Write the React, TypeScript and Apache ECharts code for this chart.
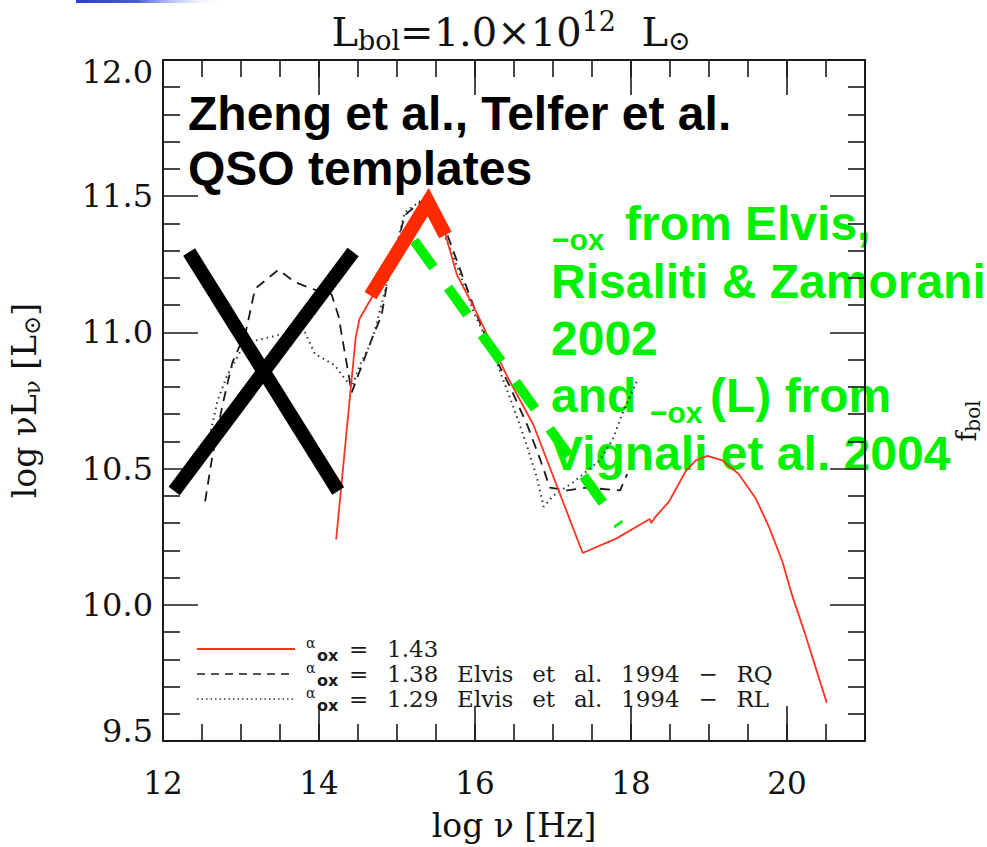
import React, { useEffect, useRef } from "react";
import * as echarts from "echarts";

// Composite QSO SED, L_bol = 1e12 Lsun (alpha_ox = 1.43)
const sedNu = [14.22, 14.47, 14.52, 14.66, 15.4, 15.61, 15.77, 15.99, 16.41, 16.75, 17.38, 17.81, 18.24, 18.26, 18.3, 18.49, 18.7, 18.83, 18.98, 19.17, 19.38, 19.6, 19.77, 19.94, 20.06, 20.23, 20.4, 20.51];
const sedL = [10.24, 10.98, 11.05, 11.12, 11.478, 11.37, 11.21, 11.09, 10.84, 10.66, 10.19, 10.243, 10.315, 10.3, 10.318, 10.38, 10.49, 10.53, 10.547, 10.53, 10.48, 10.39, 10.285, 10.16, 10.04, 9.895, 9.74, 9.64];

// Elvis et al. 1994 radio-quiet mean SED (alpha_ox = 1.38)
const rqNu = [12.54, 12.63, 12.76, 12.89, 13.06, 13.18, 13.48, 13.69, 13.91, 14.16, 14.25, 14.37, 14.42, 14.63, 14.71, 14.8, 14.88, 15.1, 15.22, 15.36, 15.65, 15.9, 16.03, 16.2, 16.45, 16.67, 16.84, 16.96, 17.18, 17.43, 17.86, 17.95];
const rqL = [10.38, 10.54, 10.73, 10.89, 11.0, 11.16, 11.23, 11.185, 11.16, 11.14, 11.06, 10.86, 10.78, 10.94, 11.0, 11.06, 11.19, 11.43, 11.46, 11.49, 11.355, 11.16, 11.06, 10.94, 10.8, 10.66, 10.53, 10.43, 10.42, 10.43, 10.42, 10.48];

// Elvis et al. 1994 radio-loud mean SED (alpha_ox = 1.29)
const rlNu = [12.6, 12.7, 12.82, 13.01, 13.18, 13.48, 13.82, 13.95, 14.2, 14.33, 14.42, 14.54, 14.63, 14.71, 14.88, 15.1, 15.38, 15.55, 15.8, 15.99, 16.24, 16.5, 16.67, 16.8, 16.88, 17.0, 17.26, 17.43, 17.6, 17.77, 17.9, 18.09];
const rlL = [10.62, 10.75, 10.84, 10.94, 10.97, 10.99, 11.0, 10.92, 10.88, 10.83, 10.8, 10.89, 10.94, 11.0, 11.19, 11.44, 11.5, 11.4, 11.22, 11.07, 10.92, 10.72, 10.58, 10.46, 10.36, 10.4, 10.45, 10.49, 10.53, 10.61, 10.71, 10.83];

// Annotation strokes: the IR cross, the optical/UV template segment, the alpha_ox bridge
const crossANu = [12.335, 14.246];
const crossAL = [11.295, 10.418];
const crossBNu = [12.144, 14.437];
const crossBL = [10.418, 11.295];
const uvNu = [14.66, 15.4, 15.62];
const uvL = [11.135, 11.478, 11.358];
const oxNu = [15.22, 17.847];
const oxL = [11.337, 10.292];

// Legend entries
const legendAlpha = ["1.43", "1.38", "1.29"];
const legendRef = ["", "Elvis\u2002 et\u2002 al.\u2002 1994\u2002 \u2212\u2002 RQ", "Elvis\u2002 et\u2002 al.\u2002 1994\u2002 \u2212\u2002 RL"];

const SERIF = '"DejaVu Serif", serif';
const SANS = '"Liberation Sans", Arial, sans-serif';
const RED = "#ff3322";
const GREEN = "#00f000";
const INK = "#1a1a1a";

const pairs = (xs: number[], ys: number[]) => xs.map((x, i) => [x, ys[i]]);

const tickLine = { color: INK, width: 1.6 };

function buildOption(): echarts.EChartsOption {
  const legendRows = [649, 674, 699];
  const legendStyles = [
    { stroke: RED, lineWidth: 1.8 },
    { stroke: INK, lineWidth: 1.6, lineDash: [8, 6] },
    { stroke: "#333", lineWidth: 1.6, lineDash: [1.5, 3] },
  ];
  const legendGraphics: any[] = [];
  legendRows.forEach((y0, i) => {
    legendGraphics.push({
      type: "line",
      shape: { x1: 197, y1: y0, x2: 295, y2: y0 },
      style: { ...legendStyles[i], fill: null },
    });
    legendGraphics.push({
      type: "text", x: 306, y: y0 - 6,
      style: { text: "\u03b1", font: `14px ${SERIF}`, lineHeight: 11, fill: INK, verticalAlign: "middle" },
    });
    legendGraphics.push({
      type: "text", x: 317, y: y0 + 6,
      style: { text: "ox", font: 'bold 16px "DejaVu Sans", sans-serif', lineHeight: 12, fill: INK, verticalAlign: "middle" },
    });
    legendGraphics.push({
      type: "text", x: 349, y: y0,
      style: {
        text: "=\u2002 " + legendAlpha[i] + (legendRef[i] ? "\u2002 " + legendRef[i] : ""),
        font: `23px ${SERIF}`, lineHeight: 20, fill: INK, verticalAlign: "middle",
      },
    });
  });

  const bigText = (text: string, x: number, y: number, fill: string, size = 48) => ({
    type: "text", x, y,
    style: {
      text, font: `bold ${size}px ${SANS}`, fill, verticalAlign: "middle",
      lineHeight: size === 48 ? 46 : 26,
    },
  });

  const majorX = (position: "top" | "bottom", labels: boolean) => ({
    type: "value" as const,
    position,
    min: 12, max: 21, interval: 2,
    axisLine: { show: true, onZero: false, lineStyle: { color: INK, width: 2 } },
    axisTick: { show: true, inside: true, length: 35, lineStyle: tickLine },
    axisLabel: labels
      ? {
          show: true, margin: 26, color: "#111", fontFamily: SERIF, fontSize: 31,
          formatter: (v: number) => (v % 2 === 0 ? String(v) : ""),
        }
      : { show: false },
    splitLine: { show: false },
    ...(labels
      ? {
          name: "log \u03bd [Hz]", nameLocation: "middle" as const, nameGap: 68,
          nameTextStyle: { fontFamily: SERIF, fontSize: 33, color: "#111" },
        }
      : {}),
  });
  const minorX = (position: "top" | "bottom") => ({
    type: "value" as const,
    position,
    min: 12, max: 21, interval: 0.5,
    axisLine: { show: false },
    axisTick: { show: true, inside: true, length: 17, lineStyle: tickLine },
    axisLabel: { show: false },
    splitLine: { show: false },
  });
  const yAx = (position: "left" | "right", labels: boolean) => ({
    type: "value" as const,
    position,
    min: 9.5, max: 12, interval: 0.5,
    axisLine: { show: true, onZero: false, lineStyle: { color: INK, width: 2 } },
    axisTick: { show: true, inside: true, length: 35, lineStyle: tickLine },
    minorTick: { show: true, splitNumber: 5, length: 17, lineStyle: tickLine },
    axisLabel: labels
      ? {
          show: true, margin: 10, color: "#111", fontFamily: SERIF, fontSize: 32,
          // end labels are nudged inward so they stay within the frame
          formatter: (v: number) =>
            v === 12 ? "{hi|12.0}" : v === 9.5 ? "{lo|9.5}" : v.toFixed(1),
          rich: {
            hi: { fontFamily: SERIF, fontSize: 32, color: "#111", padding: [24, 0, 0, 0] },
            lo: { fontFamily: SERIF, fontSize: 32, color: "#111", padding: [0, 0, 20, 0] },
          },
        }
      : { show: false },
    splitLine: { show: false },
    ...(labels
      ? {
          name: "{m|log \u03bdL}{s|\u03bd}{m| [L}{s|\u2299}{m|]}",
          nameLocation: "middle" as const, nameRotate: 90, nameGap: 120,
          nameTextStyle: {
            rich: {
              m: { fontFamily: SERIF, fontSize: 33, color: "#111" },
              s: { fontFamily: SERIF, fontSize: 23, color: "#111", padding: [14, 0, 0, 0] },
            },
          },
        }
      : {}),
  });

  const line = (name: string, nu: number[], l: number[], lineStyle: any, z = 2) => ({
    type: "line" as const, name, data: pairs(nu, l),
    xAxisIndex: 0, yAxisIndex: 0,
    symbol: "none", showSymbol: false, smooth: false, z,
    lineStyle, emphasis: { disabled: true },
  });

  return {
    animation: false,
    backgroundColor: "#ffffff",
    title: {
      text: "{m|L}{s|bol}{m|=1.0\u00d710}{p|12}{m|  L}{s|\u2299}",
      left: 511, top: 8, textAlign: "center", padding: 0,
      textStyle: {
        fontWeight: "normal",
        rich: {
          m: { fontFamily: SERIF, fontSize: 40, color: "#111", fontWeight: "normal" },
          s: { fontFamily: SERIF, fontSize: 27, color: "#111", fontWeight: "normal", padding: [18, 0, 0, 0] },
          p: { fontFamily: SERIF, fontSize: 27, color: "#111", fontWeight: "normal", padding: [0, 0, 20, 0] },
        },
      },
    },
    grid: { left: 157, right: 122, top: 60, bottom: 102, containLabel: false },
    xAxis: [majorX("bottom", true), minorX("bottom"), majorX("top", false), minorX("top")],
    yAxis: [yAx("left", true), yAx("right", false)],
    graphic: {
      elements: [
        {
          type: "rect", shape: { x: 76, y: 0, width: 152, height: 3 },
          style: {
            fill: new echarts.graphic.LinearGradient(0, 0, 1, 0, [
              { offset: 0, color: "#2a3bd6" },
              { offset: 0.4, color: "#4a5ae0" },
              { offset: 1, color: "rgba(255,255,255,0)" },
            ]),
          },
        },
        bigText("Zheng et al., Telfer et al.", 188, 113, "#000"),
        bigText("QSO templates", 188, 168, "#000"),
        bigText("\u2212ox", 552, 239, GREEN, 30),
        bigText("from Elvis,", 625, 223, GREEN),
        bigText("Risaliti & Zamorani", 551, 281, GREEN),
        bigText("2002", 551, 338, GREEN),
        bigText("and", 551, 395, GREEN),
        bigText("\u2212ox", 650, 412, GREEN, 30),
        bigText("(L) from", 710, 395, GREEN),
        bigText("Vignali et al. 2004", 551, 453, GREEN),
        {
          type: "text", x: 966, y: 421, rotation: Math.PI / 2,
          style: {
            text: "{f|f}{s|bol}", align: "center", verticalAlign: "middle",
            rich: {
              f: { fontFamily: SERIF, fontSize: 27, fill: "#111" },
              s: { fontFamily: SERIF, fontSize: 20, fill: "#111", padding: [14, 0, 0, 0] },
            },
          },
        },
        ...legendGraphics,
      ],
    },
    series: [
      line("\u03b1ox = 1.43", sedNu, sedL, { color: RED, width: 1.8 }, 3),
      line("\u03b1ox = 1.38 Elvis et al. 1994 - RQ", rqNu, rqL, { color: INK, width: 1.8, type: [10, 7] }),
      line("\u03b1ox = 1.29 Elvis et al. 1994 - RL", rlNu, rlL, { color: "#333", width: 2, type: [1.5, 4] }),
      line("IR cross a", crossANu, crossAL, { color: "#000", width: 14, cap: "butt" }, 4),
      line("IR cross b", crossBNu, crossBL, { color: "#000", width: 14, cap: "butt" }, 4),
      line("optical-UV template", uvNu, uvL, { color: "#ff2a00", width: 14, cap: "butt", join: "miter", miterLimit: 10 }, 5),
      line("alpha_ox bridge", oxNu, oxL, { color: GREEN, width: 10, type: [33, 25], cap: "butt" }, 5),
    ],
  } as any;
}

export default function App() {
  const ref = useRef<HTMLDivElement>(null);
  useEffect(() => {
    if (!ref.current) return;
    const chart = echarts.init(ref.current, undefined, { renderer: "svg" });
    chart.setOption(buildOption());
    return () => chart.dispose();
  }, []);
  return (
    <div
      ref={ref}
      style={{ position: "absolute", left: 0, top: 0, width: 987, height: 847, background: "#fff" }}
    />
  );
}
